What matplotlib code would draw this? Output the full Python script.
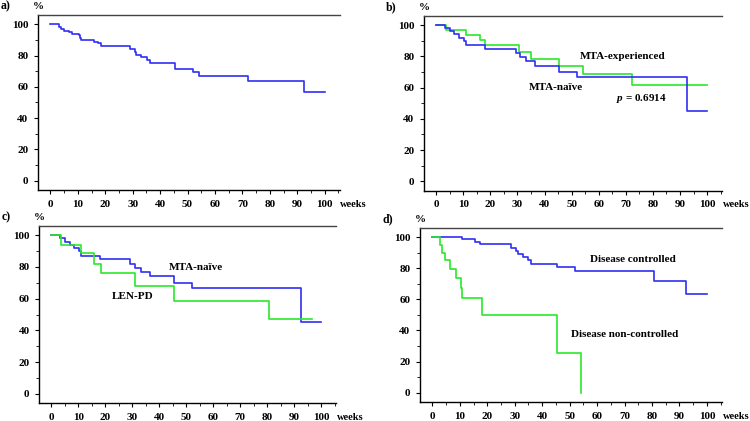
import numpy as np
import matplotlib
matplotlib.use('Agg')
import matplotlib.pyplot as plt
from matplotlib.ticker import MultipleLocator

plt.rcParams['font.family'] = ['Liberation Serif', 'DejaVu Serif']
plt.rcParams['font.weight'] = 'bold'
plt.rcParams['mathtext.fontset'] = 'custom'
plt.rcParams['mathtext.it'] = 'Liberation Serif:italic:bold'
plt.rcParams['mathtext.rm'] = 'Liberation Serif:bold'

# a) all patients
a_t = [0, 3, 4, 5, 6.7, 8, 10.5, 10.8, 11.2, 15.8, 17.2, 18.3, 29, 30.8, 31.4, 33.2, 35.2, 36.4, 45.5, 52, 54.3, 72, 92.4, 100]
a_s = [100, 98, 97, 96, 95, 94, 93, 91, 90, 89, 88, 86, 84, 82, 80.5, 79, 77.5, 75.5, 71.5, 69.6, 67, 64, 57, 57]

# MTA-naive (panels b and c)
naive_t = [0, 3.3, 5, 6.7, 8.4, 10.3, 11, 17.9, 29.3, 31, 33.2, 36.4, 45.3, 52, 92.5, 100]
naive_s = [100, 98, 96, 94, 92, 90, 87, 85, 82, 79.5, 77, 74, 70, 67, 45, 45]

# MTA-experienced (panel b)
exp_t = [0, 3.5, 10.9, 16, 18.2, 30.7, 35.1, 45.5, 54.3, 72.2, 100]
exp_s = [100, 97, 93.5, 90.5, 87, 83, 78, 73.5, 68.5, 61.5, 61.5]

# LEN-PD (panel c)
len_t = [0, 3.6, 10.9, 15.8, 18.4, 31, 45.5, 80.7, 96.7]
len_s = [100, 94, 88.5, 82, 76, 68, 58.5, 47, 47]

# Disease controlled / non-controlled (panel d)
ctrl_t = [0, 10.7, 15.4, 17.2, 28.8, 30.6, 31.3, 33, 34.9, 36.1, 45.3, 52, 80.7, 92.3, 100]
ctrl_s = [100, 98.5, 97, 95.5, 93, 91, 89, 87, 85, 82.5, 81, 78.5, 71.5, 63.5, 63.5]
nonctrl_t = [0, 2.9, 3.5, 4.6, 6.6, 8.5, 10.5, 10.9, 18.2, 45.3, 54.2]
nonctrl_s = [100, 95, 90, 85, 79.5, 74, 67, 61, 50, 25.5, 0]

BLUE = '#2f2ff5'
GREEN = '#2be82b'
FS = 8

fig = plt.figure(figsize=(7.5, 4.21), dpi=100)
boxes = {
    'a': [0.0507, 0.5487, 0.4023, 0.4157],
    'b': [0.5653, 0.5470, 0.3974, 0.4157],
    'c': [0.0524, 0.0420, 0.3956, 0.4219],
    'd': [0.5600, 0.0450, 0.4027, 0.4140],
}

axes = {}
for key, box in boxes.items():
    ax = fig.add_axes(box)
    ax.set_xlim(-4.5, 105.5)
    ax.set_ylim(-6, 106)
    ax.spines['right'].set_visible(False)
    ax.spines['top'].set_color('#444444')
    for s in ['left', 'bottom', 'top']:
        ax.spines[s].set_linewidth(1.0)
    ax.xaxis.set_major_locator(MultipleLocator(10))
    ax.xaxis.set_minor_locator(MultipleLocator(5))
    ax.yaxis.set_major_locator(MultipleLocator(20))
    ax.yaxis.set_minor_locator(MultipleLocator(10))
    ax.tick_params(which='major', direction='out', length=3, width=0.8, labelsize=FS, pad=4)
    ax.tick_params(which='minor', direction='out', length=2, width=0.6)
    for lab in ax.get_xticklabels() + ax.get_yticklabels():
        lab.set_fontweight('bold')
    ax.annotate('weeks', xy=(1, 0), xycoords='axes fraction', xytext=(0.5, -12),
                textcoords='offset points', ha='left', va='baseline', fontsize=7.5, fontweight='bold')
    ax.annotate('%', xy=(0, 1), xycoords='axes fraction', xytext=(0, 6),
                textcoords='offset points', ha='center', va='center', fontsize=FS, fontweight='bold')
    ax.annotate(key + ')', xy=(0, 1), xycoords='axes fraction', xytext=(-23.5, 6),
                textcoords='offset points', ha='center', va='center', fontsize=8.5, fontweight='bold')
    axes[key] = ax

lw = 1.2
axes['a'].step(a_t, a_s, where='post', color=BLUE, lw=lw)

axes['b'].step(exp_t, exp_s, where='post', color=GREEN, lw=lw)
axes['b'].step(naive_t, naive_s, where='post', color=BLUE, lw=lw)
axes['b'].text(68.7, 80.2, 'MTA-experienced', ha='center', va='center', fontsize=FS, fontweight='bold')
axes['b'].text(44, 60.2, 'MTA-naïve', ha='center', va='center', fontsize=FS, fontweight='bold')
axes['b'].text(75.8, 52.8, r'$p$ = 0.6914', ha='center', va='center', fontsize=FS, fontweight='bold')

axes['c'].step(naive_t, naive_s, where='post', color=BLUE, lw=lw)
axes['c'].step(len_t, len_s, where='post', color=GREEN, lw=lw)
axes['c'].text(53.7, 79.4, 'MTA-naïve', ha='center', va='center', fontsize=FS, fontweight='bold')
axes['c'].text(30.1, 61.1, 'LEN-PD', ha='center', va='center', fontsize=FS, fontweight='bold')

axes['d'].step(ctrl_t, ctrl_s, where='post', color=BLUE, lw=lw)
axes['d'].step(nonctrl_t, nonctrl_s, where='post', color=GREEN, lw=lw)
axes['d'].text(73.1, 85.7, 'Disease controlled', ha='center', va='center', fontsize=FS, fontweight='bold')
axes['d'].text(70.1, 37.7, 'Disease non-controlled', ha='center', va='center', fontsize=FS, fontweight='bold')

fig.savefig('out.png', dpi=100)
